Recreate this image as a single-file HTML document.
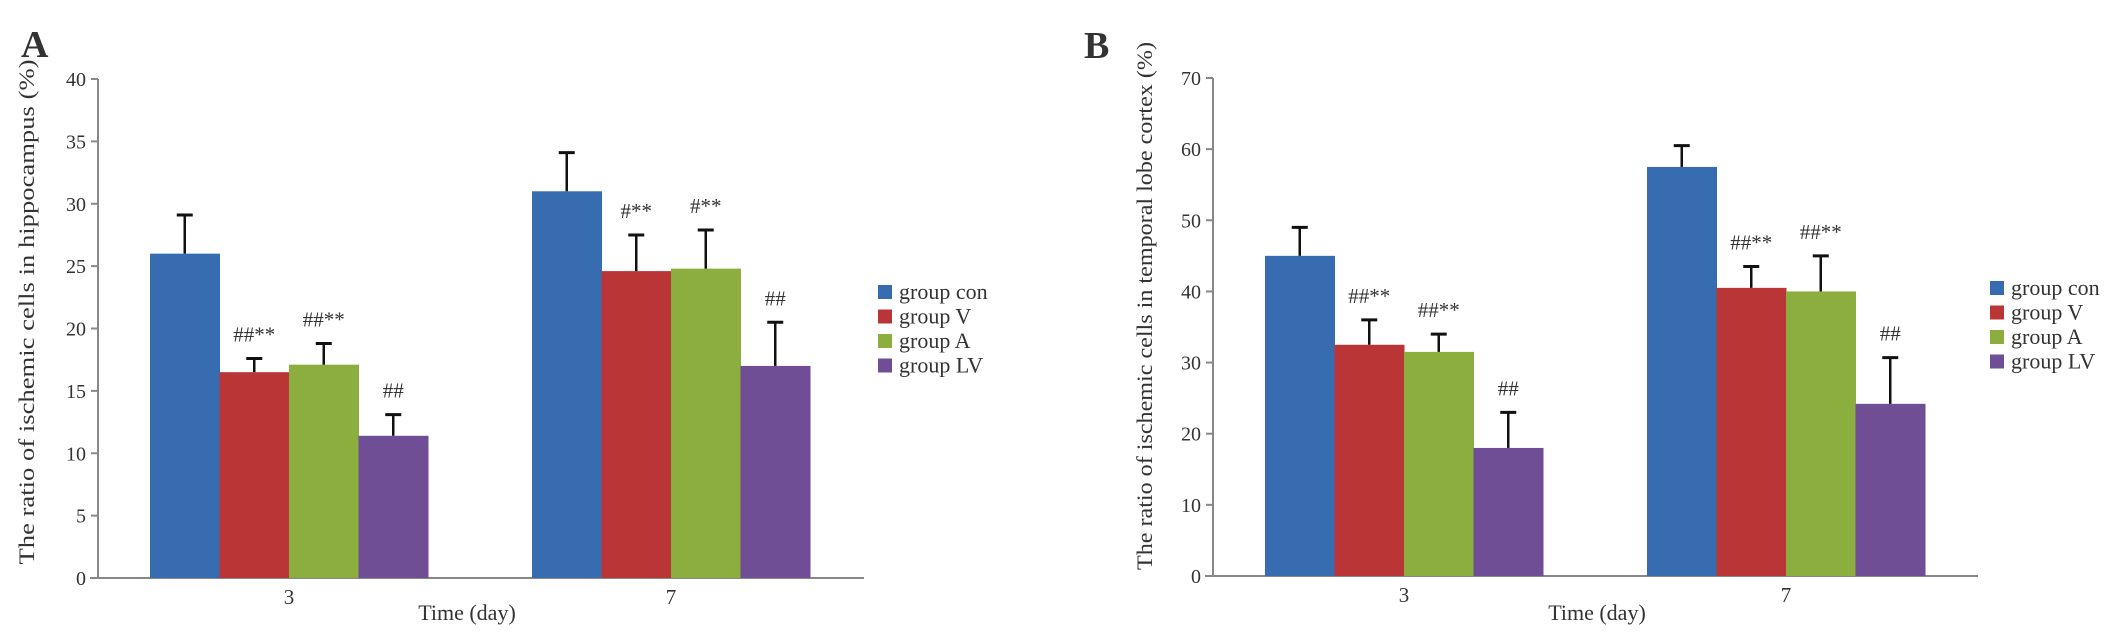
<!DOCTYPE html>
<html><head><meta charset="utf-8"><style>
body{margin:0;background:#fff}
svg{display:block}
text{font-family:"Liberation Serif",serif;fill:#333}
</style></head><body>
<svg id="s" width="2126" height="636"></svg>
<script>
const groups=["group con","group V","group A","group LV"];
const colors=["#376db0","#b93536","#8bae3f","#6f4e96"];
const categories=["3","7"];
const aVals=[[26,16.5,17.1,11.4],[31,24.6,24.8,17]];
const aErr=[[3.1,1.1,1.7,1.7],[3.1,2.9,3.1,3.5]];
const aMarks=[["","##**","##**","##"],["","#**","#**","##"]];
const aTicks=[0,5,10,15,20,25,30,35,40];
const bVals=[[45,32.5,31.5,18],[57.5,40.5,40,24.2]];
const bErr=[[4,3.5,2.5,5],[3,3,5,6.5]];
const bMarks=[["","##**","##**","##"],["","##**","##**","##"]];
const bTicks=[0,10,20,30,40,50,60,70];

const s=document.getElementById('s');
const NS="http://www.w3.org/2000/svg";
function el(t,a,txt){const e=document.createElementNS(NS,t);for(const k in a)e.setAttribute(k,a[k]);if(txt!=null)e.textContent=txt;s.appendChild(e);return e;}

function chart(o){
  const y=v=>o.y0-(v/o.max)*(o.y0-o.yTop);
  let e=el('line',{x1:o.ax,y1:o.yTop,x2:o.ax,y2:o.y0,stroke:'#888','stroke-width':2});
  
  e=el('line',{x1:o.ax-8,y1:o.y0,x2:o.axEnd,y2:o.y0,stroke:'#888','stroke-width':2});
  
  o.ticks.forEach(t=>{
    el('line',{x1:o.ax-7,y1:y(t),x2:o.ax,y2:y(t),stroke:'#888','stroke-width':2});
    e=el('text',{x:o.ax-12,y:y(t)+7,'text-anchor':'end','font-size':20},String(t));
    
  });
  categories.forEach((c,ci)=>{
    const gx=o.gx[ci], bw=o.bw[ci];
    o.vals[ci].forEach((v,gi)=>{
      const x=gx+gi*bw;
      const r=el('rect',{x:x,y:y(v),width:bw+0.5,height:o.y0-y(v),fill:colors[gi]});
      
      
      const cx=x+bw/2, top=y(v+o.err[ci][gi]);
      el('line',{x1:cx,y1:y(v),x2:cx,y2:top,stroke:'#111','stroke-width':2.5});
      el('line',{x1:cx-8,y1:top,x2:cx+8,y2:top,stroke:'#111','stroke-width':3});
      if(o.marks[ci][gi]){
        const m=el('text',{x:cx,y:top-17,'text-anchor':'middle','font-size':21},o.marks[ci][gi]);
        
      }
    });
    e=el('text',{x:gx+2*bw,y:o.y0+26,'text-anchor':'middle','font-size':21},c);
    
  });
  e=el('text',{x:o.xtX,y:620,'text-anchor':'middle','font-size':22},'Time (day)');
  
  e=el('text',{x:0,y:0,'text-anchor':'middle','font-size':22,textLength:o.ylLen,lengthAdjust:'spacingAndGlyphs',transform:`translate(${o.ylX},${o.ylY}) rotate(-90)`},o.ylabel);
  
  e=el('text',{x:o.lx,y:o.ly,'font-size':38,'font-weight':'bold',fill:'#000'},o.letter);
  
  groups.forEach((g,i)=>{
    const ly=o.legY+i*24.5;
    const r=el('rect',{x:o.legX,y:ly-7,width:14,height:14,fill:colors[i]});
    
    const t=el('text',{x:o.legX+21,y:ly+7,'font-size':22},g);
    
  });
}
chart({ax:98,axEnd:864,y0:578,yTop:79,max:40,ticks:aTicks,vals:aVals,err:aErr,marks:aMarks,
  gx:[150,532],bw:[69.5,69.5],xtX:467,ylX:34,ylY:312,ylLen:505,ylabel:'The ratio of ischemic cells in hippocampus (%)',
  letter:'A',lx:21,ly:57,legX:878,legY:292});
chart({ax:1213,axEnd:1978,y0:576,yTop:78,max:70,ticks:bTicks,vals:bVals,err:bErr,marks:bMarks,
  gx:[1265,1647],bw:[69.5,69.5],xtX:1597,ylX:1152,ylY:306,ylLen:528,ylabel:'The ratio of ischemic cells in temporal lobe cortex (%)',
  letter:'B',lx:1084,ly:58,legX:1990,legY:288});
</script>
</body></html>
